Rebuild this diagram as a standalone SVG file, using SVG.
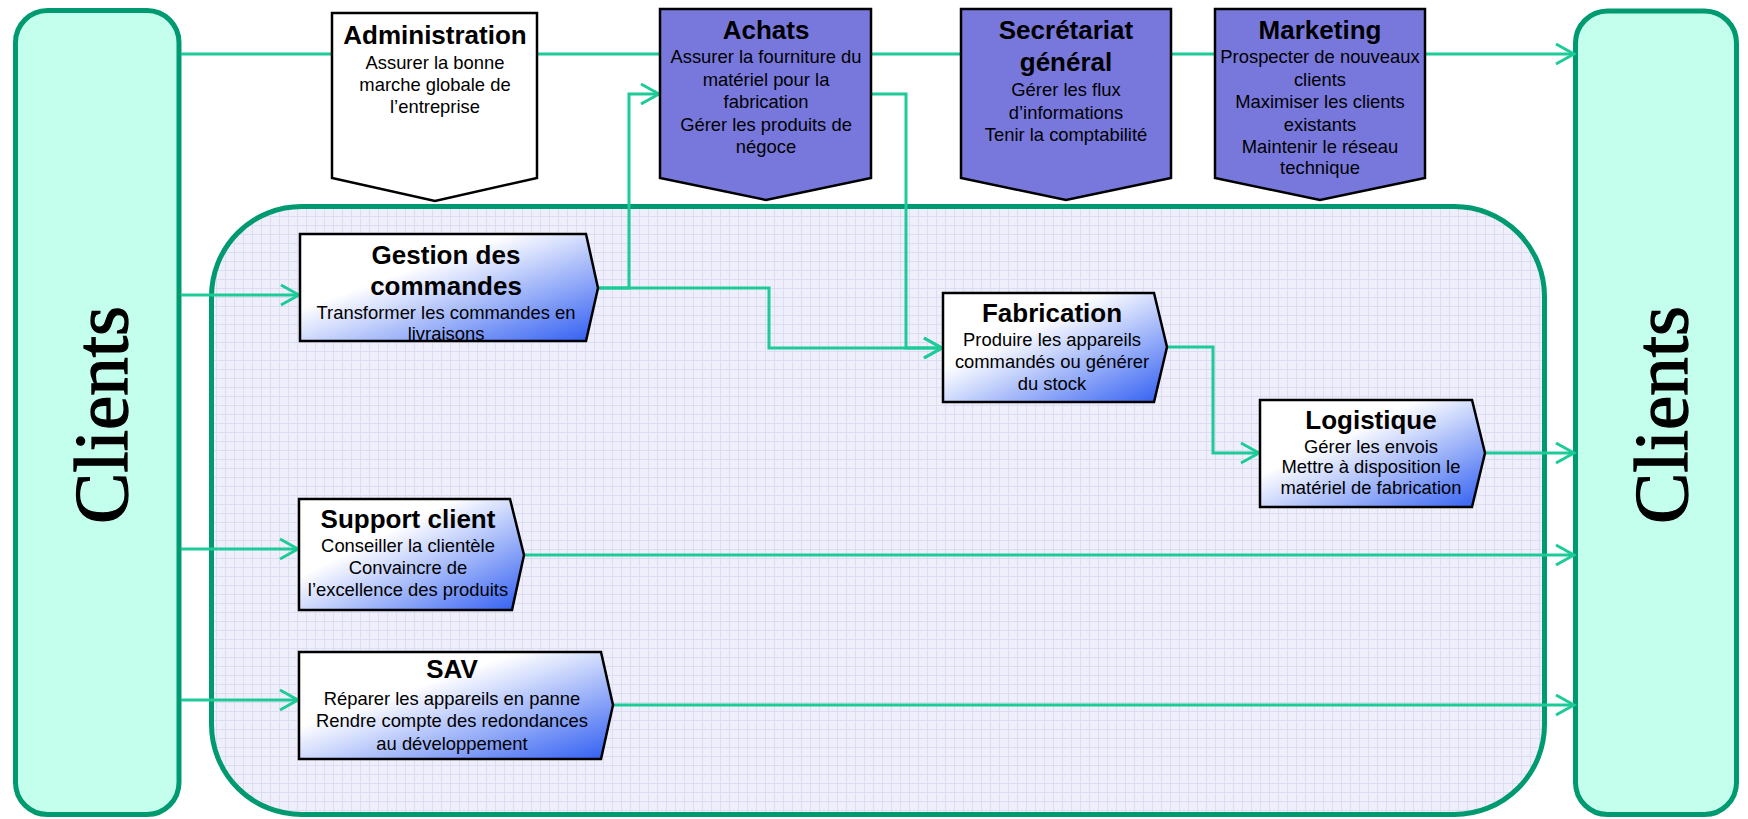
<svg xmlns="http://www.w3.org/2000/svg" width="1748" height="819" viewBox="0 0 1748 819">
<defs>
<style>
.clients{fill:#C3FFEC;stroke:#009A70;stroke-width:5}
.panel{fill:url(#grid);stroke:#009A70;stroke-width:5}
.fn{stroke:#000;stroke-width:2.5;stroke-linejoin:miter}
.fnw{fill:#FFFFFF}
.fnb{fill:#7878DC}
.proc{fill:url(#pg);stroke:#000;stroke-width:2.5}
.ct{font-family:"Liberation Serif","Times New Roman",serif;font-size:77px;fill:#000;stroke:#000;stroke-width:1.3;text-anchor:middle}
.t{font-family:"Liberation Sans",Arial,sans-serif;font-size:26px;font-weight:bold;fill:#000;text-anchor:middle}
.b{font-family:"Liberation Sans",Arial,sans-serif;font-size:18.4px;fill:#000;text-anchor:middle}
.c{fill:none;stroke:#1CCB97;stroke-width:3}
.ca{fill:none;stroke:#1CCB97;stroke-width:3;marker-end:url(#arr)}
</style>
<pattern id="grid" width="9" height="9" patternUnits="userSpaceOnUse">
<rect width="9" height="9" fill="#EFEFFB"/>
<path d="M0,0.5 H9 M0.5,0 V9" stroke="#DCDCF3" stroke-width="1" fill="none"/>
</pattern>
<linearGradient id="pg" x1="0" y1="0" x2="1" y2="1">
<stop offset="0" stop-color="#FFFFFF"/>
<stop offset="0.35" stop-color="#FFFFFF"/>
<stop offset="1" stop-color="#2F5DF2"/>
</linearGradient>
<marker id="arr" markerUnits="userSpaceOnUse" markerWidth="24" markerHeight="26" viewBox="0 0 24 26" refX="21" refY="13" orient="auto">
<path d="M3,3 L21,13 L3,23" fill="none" stroke="#1CCB97" stroke-width="3"/>
</marker>
</defs>

<g id="panel">
<rect class="panel" x="211.5" y="206.5" width="1333" height="608" rx="90" ry="90"/>
</g>

<g id="clients-left">
<rect class="clients" x="15.5" y="10.5" width="163.5" height="804" rx="32" ry="32"/>
<text class="ct" transform="translate(127,415) rotate(-90)">Clients</text>
</g>

<g id="clients-right">
<rect class="clients" x="1575.5" y="11" width="161" height="803.5" rx="32" ry="32"/>
<text class="ct" transform="translate(1687,415) rotate(-90)">Clients</text>
</g>

<g id="connectors">
<line class="c" x1="181" y1="54" x2="332" y2="54"/>
<line class="c" x1="537" y1="54" x2="660" y2="54"/>
<line class="c" x1="871" y1="54" x2="961" y2="54"/>
<line class="c" x1="1171" y1="54" x2="1215" y2="54"/>
<line class="ca" x1="1425" y1="54" x2="1574" y2="54"/>
<polyline class="ca" points="598,288 629,288 629,94 659,94"/>
<polyline class="ca" points="871,94 906,94 906,348 942,348"/>
<polyline class="ca" points="598,288 769,288 769,348 942,348"/>
<polyline class="ca" points="1167,347 1213,347 1213,453 1259,453"/>
<line class="ca" x1="1485" y1="453" x2="1574" y2="453"/>
<line class="ca" x1="181" y1="295" x2="299" y2="295"/>
<line class="ca" x1="181" y1="549" x2="298" y2="549"/>
<line class="ca" x1="524" y1="555" x2="1574" y2="555"/>
<line class="ca" x1="181" y1="700" x2="298" y2="700"/>
<line class="ca" x1="613" y1="705" x2="1574" y2="705"/>
</g>

<g id="administration">
<polygon class="fn fnw" points="332,13 537,13 537,178 435,201 332,178"/>
<text class="t" x="435" y="44">Administration</text>
<text class="b" x="435" y="69">Assurer la bonne</text>
<text class="b" x="435" y="91">marche globale de</text>
<text class="b" x="435" y="113">l’entreprise</text>
</g>

<g id="achats">
<polygon class="fn fnb" points="660,9 871,9 871,178 766,200 660,178"/>
<text class="t" x="766" y="39">Achats</text>
<text class="b" x="766" y="63">Assurer la fourniture du</text>
<text class="b" x="766" y="86">matériel pour la</text>
<text class="b" x="766" y="108">fabrication</text>
<text class="b" x="766" y="131">Gérer les produits de</text>
<text class="b" x="766" y="153">négoce</text>
</g>

<g id="secretariat">
<polygon class="fn fnb" points="961,9 1171,9 1171,178 1066,200 961,178"/>
<text class="t" x="1066" y="39">Secrétariat</text>
<text class="t" x="1066" y="71">général</text>
<text class="b" x="1066" y="96">Gérer les flux</text>
<text class="b" x="1066" y="119">d’informations</text>
<text class="b" x="1066" y="141">Tenir la comptabilité</text>
</g>

<g id="marketing">
<polygon class="fn fnb" points="1215,9 1425,9 1425,178 1320,200 1215,178"/>
<text class="t" x="1320" y="39">Marketing</text>
<text class="b" x="1320" y="63">Prospecter de nouveaux</text>
<text class="b" x="1320" y="86">clients</text>
<text class="b" x="1320" y="108">Maximiser les clients</text>
<text class="b" x="1320" y="131">existants</text>
<text class="b" x="1320" y="153">Maintenir le réseau</text>
<text class="b" x="1320" y="174">technique</text>
</g>

<g id="gestion">
<polygon class="proc" points="300,234 586,234 598,288 586,341 300,341"/>
<text class="t" x="446" y="264">Gestion des</text>
<text class="t" x="446" y="295">commandes</text>
<text class="b" x="446" y="319">Transformer les commandes en</text>
<text class="b" x="446" y="340">livraisons</text>
</g>

<g id="fabrication">
<polygon class="proc" points="943,293 1154,293 1167,347 1154,402 943,402"/>
<text class="t" x="1052" y="322">Fabrication</text>
<text class="b" x="1052" y="346">Produire les appareils</text>
<text class="b" x="1052" y="368">commandés ou générer</text>
<text class="b" x="1052" y="390">du stock</text>
</g>

<g id="logistique">
<polygon class="proc" points="1260,400 1472,400 1485,453 1472,507 1260,507"/>
<text class="t" x="1371" y="429">Logistique</text>
<text class="b" x="1371" y="453">Gérer les envois</text>
<text class="b" x="1371" y="473">Mettre à disposition le</text>
<text class="b" x="1371" y="494">matériel de fabrication</text>
</g>

<g id="support">
<polygon class="proc" points="299,499 510,499 524,555 512,610 299,610"/>
<text class="t" x="408" y="528">Support client</text>
<text class="b" x="408" y="552">Conseiller la clientèle</text>
<text class="b" x="408" y="574">Convaincre de</text>
<text class="b" x="408" y="596">l’excellence des produits</text>
</g>

<g id="sav">
<polygon class="proc" points="299,652 601,652 613,705 601,759 299,759"/>
<text class="t" x="452" y="678">SAV</text>
<text class="b" x="452" y="705">Réparer les appareils en panne</text>
<text class="b" x="452" y="727">Rendre compte des redondances</text>
<text class="b" x="452" y="750">au développement</text>
</g>
</svg>
